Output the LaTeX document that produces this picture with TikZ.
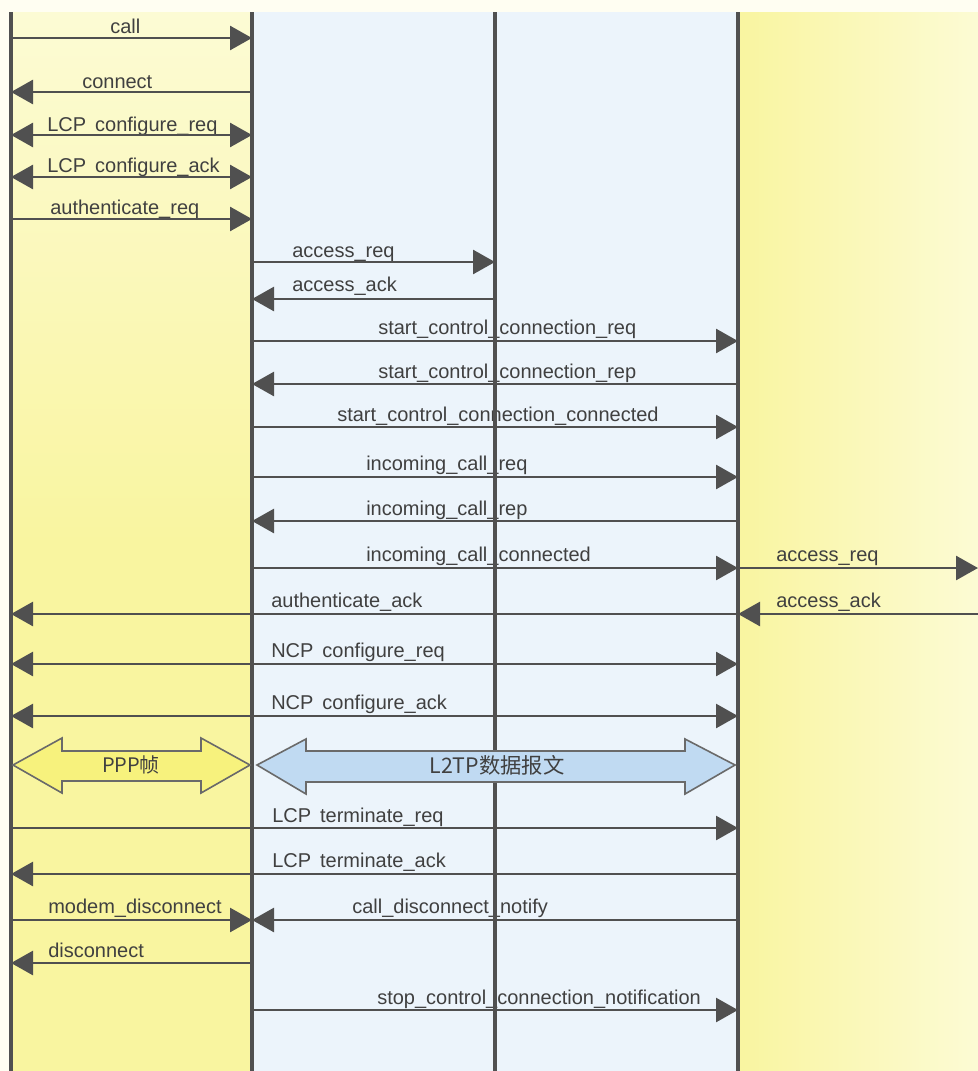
\documentclass[tikz,border=0pt]{standalone}
\usepackage{fontspec}
\setmainfont{Liberation Sans}
\newfontfamily\cjk{Noto Sans CJK SC}
\usetikzlibrary{arrows.meta}
\definecolor{linec}{HTML}{505050}
\definecolor{txtc}{HTML}{404040}
\definecolor{ylw}{RGB}{249,245,160}
\definecolor{ylwlt}{RGB}{252,251,212}
\definecolor{blu}{RGB}{236,244,251}
\definecolor{pppfill}{RGB}{247,242,125}
\definecolor{l2fill}{RGB}{192,218,242}
\definecolor{blkline}{HTML}{6A6A6A}
\begin{document}
\begin{tikzpicture}[x=0.75pt,y=-0.75pt,
  life/.style={draw=linec,line width=2.5pt},
  msg/.style={draw=linec,line width=2pt},
  >={Triangle[length=16.5pt,width=18pt]},
  lbl/.style={anchor=base west,inner sep=0pt,text=txtc,font=\fontsize{15}{18}\selectfont},
  blk/.style={draw=blkline,line width=1.2pt,line join=miter},
  blklbl/.style={inner sep=0pt,text=txtc,font=\cjk\fontsize{15}{18}\selectfont}
]
\useasboundingbox (0,0) rectangle (978,1071);
% backgrounds
\fill[white!95!yellow] (0,0) rectangle (978,1071);
\shade[top color=ylwlt,bottom color=ylw,middle color=ylw] (11,12) rectangle (252,1071);
\fill[blu] (252,12) rectangle (738,1071);
\shade[left color=ylw,right color=ylwlt] (738,12) rectangle (978,1071);

% lifeline positions
\coordinate (A) at (11,0);
\coordinate (B) at (252,0);
\coordinate (C) at (495,0);
\coordinate (D) at (738,0);
\coordinate (E) at (978,0);

% labels
\node[lbl] (t1) at (110,33) {call};
\node[lbl] (t2) at (82,88) {connect};
\node[lbl] (t3) at (47,131) {LCP\hspace{0.45em}configure\_req};
\node[lbl] (t4) at (47,172) {LCP\hspace{0.45em}configure\_ack};
\node[lbl] (t5) at (50,214) {authenticate\_req};
\node[lbl] (t6) at (292,257) {access\_req};
\node[lbl] (t7) at (292,291) {access\_ack};
\node[lbl] (t8) at (378,334) {start\_control\_connection\_req};
\node[lbl] (t9) at (378,378) {start\_control\_connection\_rep};
\node[lbl] (t10) at (337,421) {start\_control\_connection\_connected};
\node[lbl] (t11) at (366,470) {incoming\_call\_req};
\node[lbl] (t12) at (366,515) {incoming\_call\_rep};
\node[lbl] (t13) at (366,561) {incoming\_call\_connected};
\node[lbl] (t14) at (776,561) {access\_req};
\node[lbl] (t15) at (271,607) {authenticate\_ack};
\node[lbl] (t16) at (776,607) {access\_ack};
\node[lbl] (t17) at (271,657) {NCP\hspace{0.45em}configure\_req};
\node[lbl] (t18) at (271,709) {NCP\hspace{0.45em}configure\_ack};
\node[lbl] (t19) at (272,822) {LCP\hspace{0.45em}terminate\_req};
\node[lbl] (t20) at (272,867) {LCP\hspace{0.45em}terminate\_ack};
\node[lbl] (t21) at (48,913) {modem\_disconnect};
\node[lbl] (t22) at (352,913) {call\_disconnect\_notify};
\node[lbl] (t23) at (48,957) {disconnect};
\node[lbl] (t24) at (377,1004) {stop\_control\_connection\_notification};

% lifelines
\foreach \p in {A,B,C,D} \draw[life] (\p |- 0,12) -- (\p |- 0,1071);

% messages
\draw[msg,->] (A |- 0,38) -- (B |- 0,38);
\draw[msg,<-] (A |- 0,92) -- (B |- 0,92);
\draw[msg,<->] (A |- 0,135) -- (B |- 0,135);
\draw[msg,<->] (A |- 0,177) -- (B |- 0,177);
\draw[msg,->] (A |- 0,219) -- (B |- 0,219);
\draw[msg,->] (B |- 0,262) -- (C |- 0,262);
\draw[msg,<-] (B |- 0,299) -- (C |- 0,299);
\draw[msg,->] (B |- 0,341) -- (D |- 0,341);
\draw[msg,<-] (B |- 0,384) -- (D |- 0,384);
\draw[msg,->] (B |- 0,427) -- (D |- 0,427);
\draw[msg,->] (B |- 0,477) -- (D |- 0,477);
\draw[msg,<-] (B |- 0,521) -- (D |- 0,521);
\draw[msg,->] (B |- 0,568) -- (D |- 0,568);
\draw[msg,->] (D |- 0,568) -- (E |- 0,568);
\draw[msg,<-] (A |- 0,614) -- (D |- 0,614);
\draw[msg,<-] (D |- 0,614) -- (E |- 0,614);
\draw[msg,<->] (A |- 0,664) -- (D |- 0,664);
\draw[msg,<->] (A |- 0,716) -- (D |- 0,716);
\draw[msg,->] (A |- 0,828) -- (D |- 0,828);
\draw[msg,<-] (A |- 0,874) -- (D |- 0,874);
\draw[msg,->] (A |- 0,920) -- (B |- 0,920);
\draw[msg,<-] (B |- 0,920) -- (D |- 0,920);
\draw[msg,<-] (A |- 0,963) -- (B |- 0,963);
\draw[msg,->] (B |- 0,1010) -- (D |- 0,1010);

% block arrows
\draw[blk,fill=pppfill] (13,765) -- (62,738) -- (62,751) -- (201,751) -- (201,738) -- (250,765)
  -- (201,793) -- (201,781) -- (62,781) -- (62,793) -- cycle;
\node[blklbl] (ppp) at (131,765) {PPP帧};
\draw[blk,fill=l2fill] (257,765) -- (306,739) -- (306,751) -- (685,751) -- (685,739) -- (735,765)
  -- (685,794) -- (685,782) -- (306,782) -- (306,794) -- cycle;
\node[blklbl,font=\cjk\fontsize{16}{19}\selectfont] (l2tp) at (497,765) {L2TP数据报文};
\end{tikzpicture}
\end{document}
